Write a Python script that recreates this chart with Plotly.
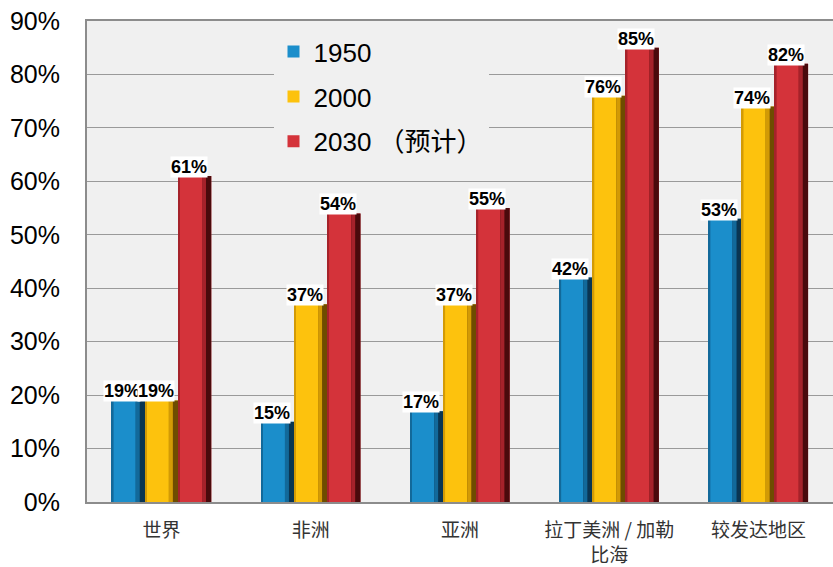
import plotly.graph_objects as go

# Urbanisation share by region (percent)
regions = ["世界", "非洲", "亚洲", "拉丁美洲 / 加勒<br>比海", "较发达地区"]
years = ["1950", "2000", "2030 （预计）"]
v1950 = [19, 15, 17, 42, 53]
v2000 = [19, 37, 37, 76, 74]
v2030 = [61, 54, 55, 85, 82]
y_ticks = [0, 10, 20, 30, 40, 50, 60, 70, 80, 90]
y_tick_text = [f"{t}%" for t in y_ticks]

series = [v1950, v2000, v2030]
# (main face, mid shade, dark edge) per series
palettes = [
    ("#1b8ecb", "#12699a", "#0a3552"),
    ("#fdc20d", "#d39a05", "#6e4c00"),
    ("#d4333a", "#a5222a", "#4a0a0c"),
]

x = list(range(len(regions)))
w = 0.222

fig = go.Figure()
for s, (vals, name, (main, mid, dark)) in enumerate(zip(series, years, palettes)):
    off = -1.5 * w + s * w
    fig.add_trace(go.Bar(x=x, y=vals, name=name, legendgroup=name, showlegend=True,
                         offset=off, width=w, marker=dict(color=main, line=dict(width=0)),
                         hoverinfo="skip"))
    # shaded right-hand bevel
    fig.add_trace(go.Bar(x=x, y=vals, legendgroup=name, showlegend=False,
                         offset=off + 0.72 * w, width=0.28 * w,
                         marker=dict(color=dark, line=dict(width=0)), hoverinfo="skip"))
    fig.add_trace(go.Bar(x=x, y=vals, legendgroup=name, showlegend=False,
                         offset=off + 0.72 * w, width=0.12 * w,
                         marker=dict(color=mid, line=dict(width=0)), hoverinfo="skip"))
    fig.add_trace(go.Bar(x=x, y=vals, legendgroup=name, showlegend=False,
                         offset=off, width=0.05 * w,
                         marker=dict(color=mid, line=dict(width=0)), hoverinfo="skip"))
    # value labels on white boxes
    for xi, v in zip(x, vals):
        fig.add_annotation(x=xi + off + w / 2, y=v, text=f"<b>{v}%</b>",
                           showarrow=False, yanchor="bottom", xshift=-6, yshift=-2,
                           bgcolor="white", borderpad=0,
                           font=dict(family="Liberation Sans, Arial", size=18, color="black"))

fig.update_layout(
    width=833, height=567,
    margin=dict(l=87, r=0, t=21, b=65),
    barmode="overlay",
    paper_bgcolor="white",
    plot_bgcolor="#f0f0f0",
    showlegend=True,
    legend=dict(x=0.25, y=0.985, xanchor="left", yanchor="top",
                bgcolor="#f0f0f0", borderwidth=0,
                traceorder="grouped", tracegroupgap=8,
                font=dict(family="Liberation Sans, Noto Sans CJK SC", size=26, color="black"),
                itemwidth=30),
    xaxis=dict(range=[-0.5, len(regions) - 0.5], tickvals=x, ticktext=regions,
               showline=True, linecolor="#8c8c8c", linewidth=2, mirror=True,
               showgrid=False, ticks="", ticklabelstandoff=10, automargin=False,
               tickfont=dict(family="Noto Sans CJK SC", size=19, color="#333333")),
    yaxis=dict(range=[0, 90], tickvals=y_ticks, ticktext=y_tick_text,
               showline=True, linecolor="#8c8c8c", linewidth=2,
               showgrid=True, gridcolor="#9a9a9a", gridwidth=1, zeroline=False,
               ticks="", ticklabelstandoff=20, automargin=False,
               tickfont=dict(family="Liberation Sans, Arial", size=25, color="black")),
)

fig.write_html("out.html")
